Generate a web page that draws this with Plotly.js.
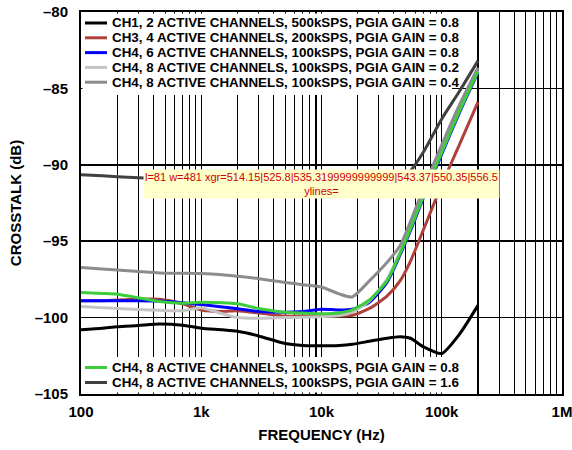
<!DOCTYPE html>
<html>
<head>
<meta charset="utf-8">
<script src="https://cdn.plot.ly/plotly-3.0.1.min.js"></script>
<style>html,body{margin:0;padding:0;background:#fff;overflow:hidden;}#chart{width:572px;height:450px;}</style>
</head>
<body>
<div id="chart"></div>
<script>
// ---- data ----
const freqHz = [100, 150, 200, 300, 450, 700, 1000, 1500, 2000, 3000, 5000, 7000, 10000, 14000, 18000, 25000, 35000, 45000, 55000, 70000, 100000, 140000, 200000];

const ch1Gain08_2ch = [-100.8, -100.7, -100.6, -100.52, -100.42, -100.5, -100.69, -100.8, -100.9, -101.2, -101.7, -101.82, -101.85, -101.83, -101.75, -101.55, -101.35, -101.25, -101.35, -101.9, -102.35, -101.1, -99.2];
const ch3Gain08_4ch = [-98.9, -98.9, -98.85, -98.8, -98.8, -99.1, -99.5, -99.6, -99.55, -99.7, -99.9, -99.9, -99.9, -99.9, -99.85, -99.4, -98.6, -97.6, -96.3, -94.3, -91.3, -88.7, -85.9];
const ch4Gain08_6ch = [-98.9, -98.9, -98.9, -98.9, -98.92, -99.03, -99.15, -99.3, -99.42, -99.6, -99.65, -99.6, -99.45, -99.5, -99.45, -99.0, -97.7, -95.9, -94.3, -92.2, -89.3, -86.6, -83.95];
const ch4Gain02_8ch = [-99.28, -99.35, -99.4, -99.47, -99.52, -99.55, -99.35, -99.75, -100.0, -100.05, -100.0, -99.98, -99.94, -99.87, -99.65, -98.9, -97.5, -95.7, -94.0, -91.9, -89.0, -86.3, -83.8];
const ch4Gain04_8ch = [-96.72, -96.82, -96.88, -96.98, -97.08, -97.1, -97.12, -97.2, -97.3, -97.45, -97.7, -97.85, -98.0, -98.45, -98.65, -97.6, -96.4, -95.3, -93.7, -91.6, -88.7, -86.1, -83.65];
const ch4Gain08_8ch = [-98.35, -98.42, -98.47, -98.7, -98.95, -99.06, -99.0, -99.03, -99.1, -99.4, -99.65, -99.7, -99.75, -99.7, -99.5, -98.85, -97.6, -95.8, -94.2, -92.1, -89.2, -86.5, -83.9];
const ch4Gain16_8ch = [-90.65, -90.72, -90.78, -90.85, -90.92, -90.98, -91.05, -91.1, -91.13, -91.18, -91.25, -91.3, -91.4, -91.62, -91.8, -91.75, -91.45, -91.0, -90.4, -89.2, -87.0, -85.2, -83.2];

const seriesNames = [
  "CH1, 2 ACTIVE CHANNELS, 500kSPS, PGIA GAIN = 0.8",
  "CH3, 4 ACTIVE CHANNELS, 200kSPS, PGIA GAIN = 0.8",
  "CH4, 6 ACTIVE CHANNELS, 100kSPS, PGIA GAIN = 0.8",
  "CH4, 8 ACTIVE CHANNELS, 100kSPS, PGIA GAIN = 0.2",
  "CH4, 8 ACTIVE CHANNELS, 100kSPS, PGIA GAIN = 0.4",
  "CH4, 8 ACTIVE CHANNELS, 100kSPS, PGIA GAIN = 0.8",
  "CH4, 8 ACTIVE CHANNELS, 100kSPS, PGIA GAIN = 1.6"
];
const seriesValues = [ch1Gain08_2ch, ch3Gain08_4ch, ch4Gain08_6ch, ch4Gain02_8ch, ch4Gain04_8ch, ch4Gain08_8ch, ch4Gain16_8ch];
const seriesColors = ["#000000", "#b0403a", "#0000ff", "#c4c4c4", "#8c8c8c", "#3ccc3c", "#404040"];
const legendGroup = [1, 1, 1, 1, 1, 2, 2];

const xDecades = [100, 1000, 10000, 100000, 1000000];
const xDecadeText = ["100", "1k", "10k", "100k", "1M"];
const yTickVals = [-80, -85, -90, -95, -100, -105];
const yTickText = ["\u201380", "\u201385", "\u201390", "\u201395", "\u2013100", "\u2013105"];

const xTickVals = [], xTickText = [];
xDecades.forEach((d, i) => {
  xTickVals.push(d); xTickText.push("<b>" + xDecadeText[i] + "</b>");
  if (i < xDecades.length - 1) for (let k = 2; k <= 9; k++) { xTickVals.push(d * k); xTickText.push(""); }
});

const W = 572, H = 450;
const M = {l: 81, r: 10, t: 12, b: 56};
const PW = W - M.l - M.r, PH = H - M.t - M.b;
const px2x = p => (p - M.l) / PW;
const px2y = p => (M.t + PH - p) / PH;
const FONT = "Liberation Sans, Arial, Helvetica, sans-serif";

const traces = seriesValues.map((v, i) => ({
  type: "scatter", mode: "lines", name: seriesNames[i],
  x: freqHz, y: v, showlegend: false,
  line: {color: seriesColors[i], width: 3, shape: "spline", smoothing: 0.6}
}));

const shapes = [
  {type: "rect", xref: "paper", yref: "paper", layer: "above", x0: px2x(M.l + 1.5), x1: px2x(452), y0: px2y(95), y1: px2y(M.t + 1.5), fillcolor: "#fff", line: {width: 0}},
  {type: "rect", xref: "paper", yref: "paper", layer: "above", x0: px2x(M.l + 1.5), x1: px2x(452), y0: px2y(M.t + PH - 1.5), y1: px2y(357), fillcolor: "#fff", line: {width: 0}}
];
const annotations = [];
const rowsTop = [23, 37.8, 52.6, 67.4, 82.2];
const rowsBottom = [367.5, 382.5];
let r1 = 0, r2 = 0;
seriesNames.forEach((n, i) => {
  const yy = legendGroup[i] === 1 ? rowsTop[r1++] : rowsBottom[r2++];
  shapes.push({type: "line", xref: "paper", yref: "paper", layer: "above", x0: px2x(85), x1: px2x(107), y0: px2y(yy), y1: px2y(yy), line: {color: seriesColors[i], width: 3}});
  annotations.push({xref: "paper", yref: "paper", x: px2x(110), y: px2y(yy), xanchor: "left", yanchor: "middle", showarrow: false, text: "<b>" + n + "</b>", font: {family: FONT, size: 13.4, color: "#000"}});
});

const layout = {
  width: W, height: H, margin: M,
  paper_bgcolor: "#fff", plot_bgcolor: "#fff",
  showlegend: false,
  font: {family: FONT, color: "#000"},
  xaxis: {
    type: "log", range: [2, 6],
    tickmode: "array", tickvals: xTickVals, ticktext: xTickText,
    tickfont: {family: FONT, size: 15, color: "#000"},
    ticklabeloverflow: "allow",
    ticks: "outside", ticklen: 3, tickcolor: "rgba(0,0,0,0)",
    showgrid: true, gridcolor: "#000", gridwidth: 1.1,
    showline: true, linecolor: "#000", linewidth: 2, mirror: true,
    zeroline: false,
    title: {text: "<b>FREQUENCY (Hz)</b>", font: {family: FONT, size: 15, color: "#000"}, standoff: 10}
  },
  yaxis: {
    range: [-105, -80],
    tickmode: "array", tickvals: yTickVals, ticktext: yTickText.map(t => "<b>" + t + "</b>"),
    tickfont: {family: FONT, size: 15, color: "#000"},
    ticklabeloverflow: "allow",
    ticks: "outside", ticklen: 8, tickcolor: "rgba(0,0,0,0)",
    showgrid: true, gridcolor: "#000", gridwidth: 1.5,
    showline: true, linecolor: "#000", linewidth: 2, mirror: true,
    zeroline: false,
    title: {text: "<b>CROSSTALK (dB)</b>", font: {family: FONT, size: 15, color: "#000"}, standoff: 9}
  },
  shapes: shapes,
  annotations: annotations
};

const gd = document.getElementById("chart");
Plotly.newPlot(gd, traces, layout, {displayModeBar: false, staticPlot: true}).then(() => {
  const s = gd._fullLayout._size;
  const grids = Array.from(gd.querySelectorAll(".xgrid")).map(g => (g.getAttribute("transform") || "").replace(/translate\(|\)/g, "").split(",")[0]).slice(-6).join("|");
  const mir = Array.from(gd.querySelectorAll("path.yline-above, path.y2line, .ylines-above path")).map(p => p.getAttribute("d")).join(" ; ");
  const info = "l=" + s.l + " w=" + s.w + " xgr=" + grids + "<br>ylines=" + mir.slice(0, 120);
  const ann = layout.annotations.concat([{xref: "paper", yref: "paper", x: 0.5, y: 0.55, text: info, showarrow: false, font: {size: 11, color: "#c00"}, bgcolor: "#ffffcc"}]);
  Plotly.relayout(gd, {annotations: ann});
});
</script>
</body>
</html>
